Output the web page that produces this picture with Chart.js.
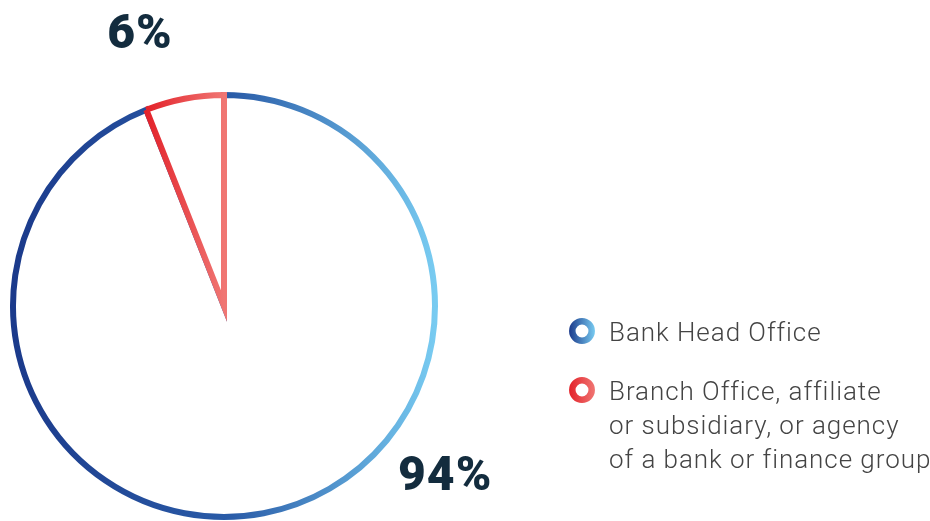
<!DOCTYPE html>
<html>
<head>
<meta charset="utf-8">
<title>Bank head office vs branch</title>
<script src="https://cdn.jsdelivr.net/npm/chart.js@4.4.1/dist/chart.umd.min.js"></script>
<style>
    html, body { margin: 0; padding: 0; background: #ffffff; }
    #wrap { position: relative; width: 930px; height: 521px; }
</style>
</head>
<body>
<div id="wrap"><canvas id="officeChart" width="930" height="521"></canvas></div>
<script>
// Who reports: head office or a branch / affiliate
const categories = [
    'Bank Head Office',
    ['Branch Office, affiliate', 'or subsidiary, or agency', 'of a bank or finance group']
];
const shares = [94, 6];
const shareLabels = ['94%', '6%'];

// stroke gradients, dark -> light from left to right
const blueStops = [[0, '#1b3a8b'], [0.52, '#2a5ca8'], [1, '#78cbf1']];
const redStops = [[0, '#e3222a'], [1, '#f07673']];

const PIE_RADIUS = 211;

function makeGradient(g, x0, x1, stops) {
    const grad = g.createLinearGradient(x0, 0, x1, 0);
    stops.forEach(s => grad.addColorStop(s[0], s[1]));
    return grad;
}

function pieCenter(chart) {
    const a = chart.chartArea;
    return { x: (a.left + a.right) / 2, y: (a.top + a.bottom) / 2 };
}

function sliceBorder(context) {
    const chart = context.chart;
    if (!chart.chartArea) return '#1b3a8b';
    const c = pieCenter(chart);
    const r = PIE_RADIUS;
    if (context.dataIndex === 0) {
        return makeGradient(chart.ctx, c.x - r, c.x + r, blueStops);
    }
    // small slice ends at 12 o'clock, starts shares[1]% before it
    const total = shares.reduce((a, b) => a + b, 0);
    const ang = shares[1] / total * Math.PI * 2;
    const xStart = c.x - r * Math.sin(ang);
    return makeGradient(chart.ctx, xStart, c.x, redStops);
}

const overlay = {
    id: 'overlay',
    afterDraw(chart) {
        const g = chart.ctx;
        const c = pieCenter(chart);
        const r = PIE_RADIUS;
        g.save();

        // percentages
        g.fillStyle = '#132c3e';
        g.font = '900 48px Roboto';
        g.letterSpacing = '1px';
        g.textBaseline = 'alphabetic';
        g.textAlign = 'center';
        g.fillText(shareLabels[1], c.x - 84, c.y - r - 47);
        g.textAlign = 'left';
        g.fillText(shareLabels[0], c.x + 174, c.y + 184);

        // legend
        const lx = 582;
        const rows = [331, 390];
        const stops = [blueStops, redStops];
        g.font = '300 26px Roboto';
        g.letterSpacing = '0.95px';
        g.fillStyle = '#444444';
        rows.forEach((y, i) => {
            g.beginPath();
            g.arc(lx, y, 9.7, 0, Math.PI * 2);
            g.lineWidth = 6.5;
            g.strokeStyle = makeGradient(g, lx - 13, lx + 13, [[0, stops[i][0][1]], [1, stops[i][stops[i].length - 1][1]]]);
            g.stroke();

            const lines = [].concat(categories[i]);
            lines.forEach((t, k) => {
                g.fillText(t, lx + 27, y + 10 + k * 34);
            });
        });
        g.restore();
    }
};

new Chart(document.getElementById('officeChart'), {
    type: 'pie',
    data: {
        labels: categories,
        datasets: [{
            data: shares,
            backgroundColor: '#ffffff',
            borderColor: sliceBorder,
            borderWidth: 6,
            borderAlign: 'center',
            borderJoinStyle: 'miter'
        }]
    },
    options: {
        responsive: false,
        animation: false,
        events: [],
        radius: PIE_RADIUS,
        layout: { padding: { left: 0, right: 482, top: 91, bottom: 0 } },
        plugins: {
            legend: { display: false },
            tooltip: { enabled: false }
        }
    },
    plugins: [overlay]
});
</script>
</body>
</html>
